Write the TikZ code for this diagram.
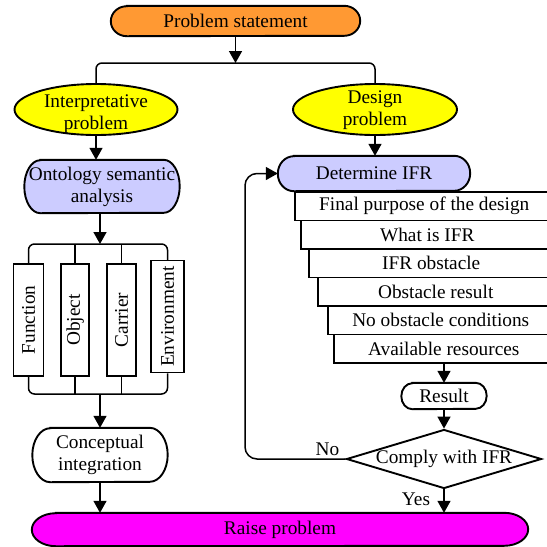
\documentclass[tikz,border=0pt]{standalone}
\usepackage{fontspec}
\setmainfont{Liberation Serif}
\usetikzlibrary{arrows.meta,shapes.geometric,calc}
\pgfdeclarelayer{bg}
\pgfsetlayers{bg,main}
\definecolor{psorange}{RGB}{255,153,51}
\definecolor{lav}{RGB}{204,204,255}
\definecolor{mag}{RGB}{255,0,255}
\definecolor{yel}{RGB}{255,255,0}
\tikzset{
  txt/.style={inner sep=0pt, align=center, font=\fontsize{19.3}{22}\selectfont},
  bord/.style={line width=1.9pt},
  ln/.style={line width=1.5pt},
  arr/.style={ln, -{Triangle[length=12pt,width=13pt]}},
  ell/.style={ellipse, draw, bord, fill=yel, inner sep=0pt},
  vbox/.style={draw, line width=1.5pt, fill=white, rotate=90, txt},
  sbox/.style={draw, line width=1.5pt, fill=white, txt, anchor=north west},
}
\newcommand\stadnode[8]{%
  \node[txt, minimum width=#4pt, minimum height=#5pt] (#1) at (#2,#3) {#8};
  \begin{pgfonlayer}{bg}
  \draw[bord, fill=#7] ([xshift=#6pt]#1.north west) -- ([xshift=-#6pt]#1.north east)
     arc[start angle=90, end angle=-90, x radius=#6pt, y radius=#5pt/2] -- ([xshift=#6pt]#1.south west)
     arc[start angle=270, end angle=90, x radius=#6pt, y radius=#5pt/2] -- cycle;
  \end{pgfonlayer}}
\begin{document}
\begin{tikzpicture}[x=1pt,y=-1pt]
\begin{pgfonlayer}{bg}
\fill[white] (0,0) rectangle (547,547);
\end{pgfonlayer}
\useasboundingbox (0,0) rectangle (547,547);

% top
\stadnode{ps}{235.5}{21}{249}{30}{16}{psorange}{Problem statement}
\coordinate (sp) at (235.5,63);
\node[ell, minimum width=163pt, minimum height=51pt] (ip) at (96,109.5) {};
\node[txt] (ipt) at (96,114) {Interpretative\\problem};
\node[ell, minimum width=164pt, minimum height=51pt] (dp) at (375,109.5) {};
\node[txt] (dpt) at (375,110) {Design\\problem};
\draw[arr] (ps.south) -- (sp);
\draw[ln, rounded corners=6pt] (ip.north) |- (sp) -| (dp.north);

% left branch
\stadnode{ont}{102}{186.5}{155}{53}{16}{lav}{Ontology semantic\\analysis}
\draw[arr] (ip.south) -- (ip.south |- ont.north);
\coordinate (tb) at (100,244);
\coordinate (bb) at (100,394);
\node[vbox, minimum width=112pt, minimum height=30pt] (fun) at (28.5,320) {Function};
\node[vbox, minimum width=112pt, minimum height=28pt] (obj) at (75.2,320) {Object};
\node[vbox, minimum width=112pt, minimum height=29pt] (car) at (121.5,320) {Carrier};
\node[vbox, minimum width=112pt, minimum height=33pt] (env) at (167.5,316.5) {Environment};
\draw[arr] (ont.south -| tb) -- (tb);
\draw[ln, rounded corners=6pt] (fun.east) |- (tb) -| (env.east);
\draw[ln] (obj.east) -- (obj.east |- tb);
\draw[ln] (car.east) -- (car.east |- tb);
\draw[ln, rounded corners=6pt] (fun.west) |- (bb) -| (env.west);
\draw[ln] (obj.west) -- (obj.west |- bb);
\draw[ln] (car.west) -- (car.west |- bb);
\stadnode{ci}{100}{455}{135}{54}{18}{white}{Conceptual\\integration}
\draw[arr] (bb) -- (bb |- ci.north);

% right branch
\stadnode{ifr}{374}{173.5}{192}{35}{16}{lav}{Determine IFR}
\draw[arr] (dp.south) -- (dp.south |- ifr.north);
\node[sbox, minimum width=259pt, minimum height=28.5pt] (s1) at (294,191) {Final purpose of the design};
\node[sbox, minimum width=253pt, minimum height=28.5pt] (s2) at (300,219.5) {What is IFR};
\node[sbox, minimum width=245pt, minimum height=28.5pt] (s3) at (308,248) {IFR obstacle};
\node[sbox, minimum width=236pt, minimum height=28.5pt] (s4) at (317,276.5) {Obstacle result};
\node[sbox, minimum width=226pt, minimum height=28.5pt] (s5) at (327,305) {No obstacle conditions};
\node[sbox, minimum width=220pt, minimum height=28.5pt] (s6) at (333,333.5) {Available resources};
\stadnode{res}{444}{396}{85}{26}{11}{white}{Result}
\draw[arr] (res.north |- s6.south) -- (res.north);
\node[diamond, draw, bord, fill=white, minimum width=195pt, minimum height=59pt, inner sep=0pt] (dia) at (444,459) {};
\node[txt] (diat) at (444,459) {Comply with IFR};
\draw[arr] (res.south) -- (res.south |- dia.north);
\coordinate (lx) at (245,300);
\draw[arr, rounded corners=12pt] (dia.west) -| (lx) |- (ifr.west);
\node[txt] (no) at (327.5,449) {No};

% bottom
\stadnode{rp}{280}{529.5}{496}{33}{24}{mag}{Raise problem}
\draw[arr] (ci.south) -- (ci.south |- rp.north);
\draw[arr] (dia.south) -- (dia.south |- rp.north);
\node[txt] (yes) at (416,499) {Yes};
\end{tikzpicture}
\end{document}
